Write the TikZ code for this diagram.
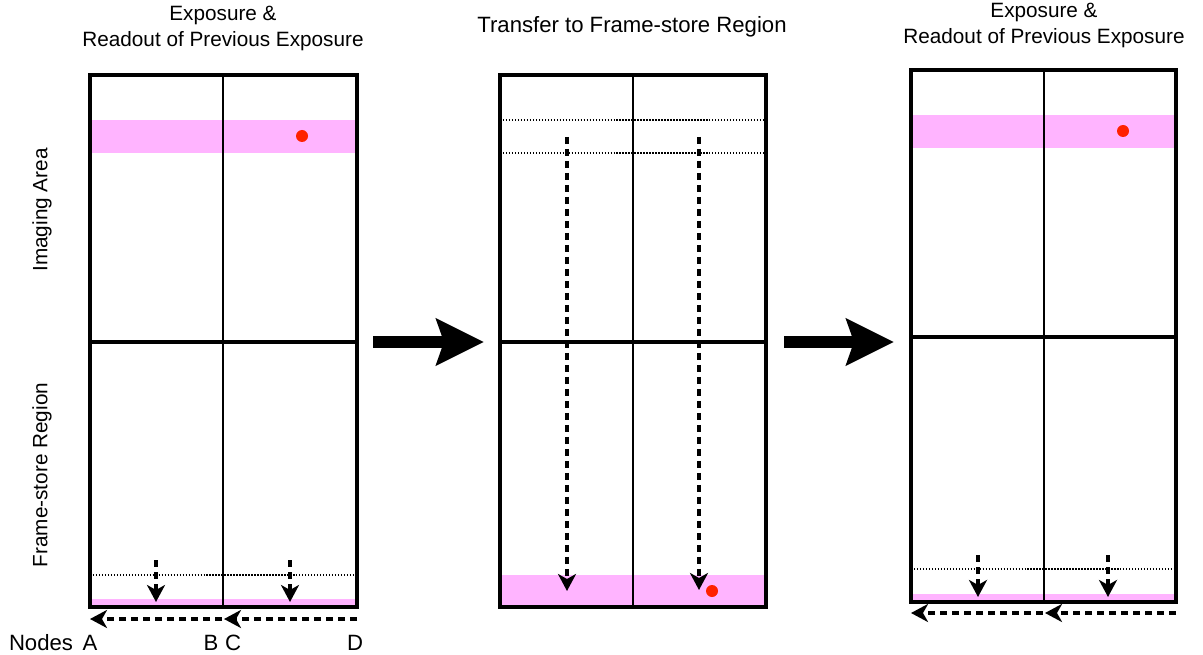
\documentclass[tikz,border=0pt]{standalone}
\usepackage{fontspec}
\setmainfont{Liberation Sans}
\usetikzlibrary{arrows.meta}
\definecolor{bandpink}{RGB}{255,180,255}
\definecolor{dotred}{RGB}{255,34,0}
\tikzset{
  frame/.style={line width=2.2pt},
  divider/.style={line width=1.1pt},
  shiftline/.style={line width=0.9pt, dash pattern=on 0.8pt off 0.9pt},
  transfer/.style={line width=2.2pt, dash pattern=on 0.14cm off 0.1cm,
    -{Stealth[length=0.34cm,width=0.36cm,inset=0.1cm]}},
  bigarrow/.style={line width=0.25cm, -{Stealth[length=0.95cm,width=0.92cm,inset=0.15cm]}},
  caption/.style={font=\fontsize{11.8}{14.8}\selectfont, align=center}
}
\begin{document}
\begin{tikzpicture}[x=0.02cm,y=-0.02cm]
\useasboundingbox (0,0) rectangle (1203,655);

% Left panel
\node[caption] (ltitle) at (223,28) {Exposure \&\\Readout of Previous Exposure};
\node[caption, rotate=90] (imaging) at (42,210) {Imaging Area};
\node[caption, rotate=90] (store) at (42,475) {Frame-store Region};
\fill[bandpink] (90,120) rectangle (357,153);
\fill[bandpink] (90,599) rectangle (357,607);
\fill[dotred] (302,136) circle[radius=6];
\draw[shiftline] (90,575) -- (357,575);
\draw[divider] (223,75) -- (223,607);
\draw[frame] (90,342) -- (357,342);
\draw[frame] (90,75) rectangle (357,607);
\coordinate (la1) at (156,560);
\coordinate (la2) at (156,602);
\coordinate (lb1) at (290,560);
\coordinate (lb2) at (290,602);
\draw[transfer] (la1) -- (la2);
\draw[transfer] (lb1) -- (lb2);

% Nodes
\node[caption, font=\fontsize{12.6}{14}\selectfont] (nodes) at (41,643) {Nodes};
\node[caption, font=\fontsize{12.6}{14}\selectfont] (A) at (90,643) {A};
\node[caption, font=\fontsize{12.6}{14}\selectfont] (B) at (211,643) {B};
\node[caption, font=\fontsize{12.6}{14}\selectfont] (C) at (233,643) {C};
\node[caption, font=\fontsize{12.6}{14}\selectfont] (D) at (355,643) {D};
\coordinate (lD) at (357,619);
\coordinate (lC) at (224,619);
\coordinate (lB) at (222,619);
\coordinate (lA) at (90,619);
\draw[transfer] (lD) -- (lC);
\draw[transfer] (lB) -- (lA);

% Middle panel
\node[caption, font=\fontsize{12.6}{14}\selectfont] (mtitle) at (632,27) {Transfer to Frame-store Region};
\fill[bandpink] (500,575) rectangle (766,607);
\draw[shiftline] (500,120) -- (766,120);
\draw[shiftline] (500,153) -- (766,153);
\draw[divider] (633,75) -- (633,607);
\draw[frame] (500,342) -- (766,342);
\draw[frame] (500,75) rectangle (766,607);
\coordinate (ma1) at (567,137);
\coordinate (ma2) at (567,591);
\coordinate (mb1) at (699,137);
\coordinate (mb2) at (699,590);
\draw[transfer] (ma1) -- (ma2);
\draw[transfer] (mb1) -- (mb2);
\fill[dotred] (712,591) circle[radius=6];

% Right panel
\node[caption] (rtitle) at (1044,25) {Exposure \&\\Readout of Previous Exposure};
\fill[bandpink] (911,115) rectangle (1176,148);
\fill[bandpink] (911,594) rectangle (1176,602);
\fill[dotred] (1123,131) circle[radius=6];
\draw[shiftline] (911,569) -- (1176,569);
\draw[divider] (1044,70) -- (1044,602);
\draw[frame] (911,337) -- (1176,337);
\draw[frame] (911,70) rectangle (1176,602);
\coordinate (ra1) at (978,555);
\coordinate (ra2) at (978,597);
\coordinate (rb1) at (1108,555);
\coordinate (rb2) at (1108,597);
\draw[transfer] (ra1) -- (ra2);
\draw[transfer] (rb1) -- (rb2);
\coordinate (rD) at (1176,613);
\coordinate (rC) at (1045,613);
\coordinate (rB) at (1043,613);
\coordinate (rA) at (911,613);
\draw[transfer] (rD) -- (rC);
\draw[transfer] (rB) -- (rA);

% Big arrows
\coordinate (g1) at (373,342);
\coordinate (g2) at (484,342);
\coordinate (h1) at (784,342);
\coordinate (h2) at (894,342);
\draw[bigarrow] (g1) -- (g2);
\draw[bigarrow] (h1) -- (h2);

\end{tikzpicture}
\end{document}
